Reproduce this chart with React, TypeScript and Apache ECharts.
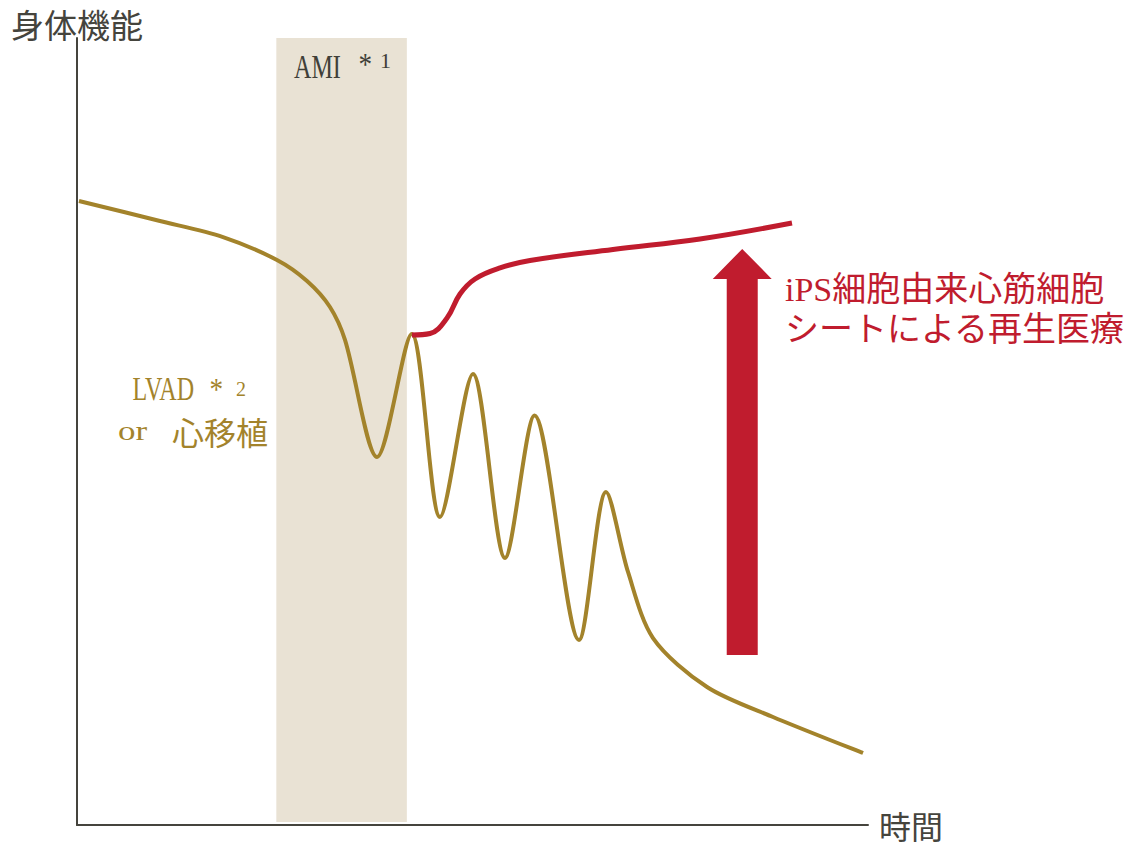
import React, { useEffect, useRef } from "react";
import * as echarts from "echarts";

// 身体機能の推移（従来経過）: [時間, 身体機能]
const declineTime = [0.25, 10.49, 18.46, 25.28, 29.08, 31.98, 33.88, 37.93, 42.31, 45.89, 50.06, 54.11, 57.84, 63.46, 66.88, 69.66, 72.82, 79.65, 87.99, 99.37];
const declineValue = [79.29, 76.75, 74.71, 71.79, 69.12, 65.82, 61.63, 46.76, 62.39, 39.14, 57.31, 33.93, 52.03, 23.51, 42.31, 32.15, 23.76, 17.53, 13.72, 9.15];

// iPS細胞由来心筋細胞シートによる再生医療後の推移
const recoveryTime = [42.35, 44.63, 46.78, 48.42, 50.32, 53.48, 57.27, 67.76, 78.76, 90.39];
const recoveryValue = [62.26, 62.45, 64.42, 67.47, 69.38, 70.78, 71.73, 73.13, 74.46, 76.49];

// AMI 期間（時間軸）
const amiPeriod = [25.2, 41.7];
// 矢印: [時間, 下端, 先端]
const improvementArrow = [84.1, 21.6, 73.2];

const GOLD = "#a3832b";
const RED = "#c01c2e";
const BAND = "#e9e2d4";
const AXIS = "#45443d";
const SERIF = "'Liberation Serif', 'Noto Sans CJK JP', serif";
const CJK = "'Noto Sans CJK JP', sans-serif";

function txt(x: number, y: number, text: string, fontSize: number, fontFamily: string, fill: string, scaleX = 1, extra: any = {}) {
  return {
    type: "text",
    x,
    y,
    z: 100,
    scaleX,
    silent: true,
    style: {
      text,
      fontSize,
      fontFamily,
      fill,
      align: "left",
      textAlign: "left",
      verticalAlign: "middle",
      textVerticalAlign: "middle",
      ...extra,
    },
  };
}

export default function App() {
  const ref = useRef<HTMLDivElement>(null);
  useEffect(() => {
    const chart = echarts.init(ref.current!, null, { renderer: "svg" });
    const decline = declineTime.map((t, i) => [t, declineValue[i]]);
    const recovery = recoveryTime.map((t, i) => [t, recoveryValue[i]]);
    const axisCommon = {
      type: "value",
      min: 0,
      max: 100,
      axisLine: { show: true, onZero: false, lineStyle: { color: AXIS, width: 2 } },
      axisTick: { show: false },
      axisLabel: { show: false },
      splitLine: { show: false },
    };
    chart.setOption({
      animation: false,
      grid: { left: 77, right: 265, top: 38, bottom: 26 },
      xAxis: {
        ...axisCommon,
        name: "時間",
        nameLocation: "end",
        nameGap: 11,
        nameTextStyle: {
          fontFamily: CJK,
          fontSize: 32,
          color: AXIS,
          align: "left",
          verticalAlign: "middle",
          padding: [25, 0, 0, 0],
        },
      },
      yAxis: {
        ...axisCommon,
        name: "身体機能",
        nameLocation: "end",
        nameGap: 14.5,
        nameTextStyle: {
          fontFamily: CJK,
          fontSize: 33,
          color: AXIS,
          align: "center",
          verticalAlign: "middle",
        },
      },
      series: [
        {
          type: "line",
          data: decline,
          smooth: 0.3,
          showSymbol: false,
          silent: true,
          lineStyle: { color: GOLD, width: 4 },
          z: 2,
          markArea: {
            silent: true,
            itemStyle: { color: BAND },
            data: [[{ xAxis: amiPeriod[0], yAxis: 0.38 }, { xAxis: amiPeriod[1], yAxis: 100 }]],
          },
        },
        {
          type: "line",
          data: recovery,
          smooth: 0.4,
          showSymbol: false,
          silent: true,
          lineStyle: { color: RED, width: 5 },
          z: 3,
        },
        {
          type: "custom",
          data: [improvementArrow],
          silent: true,
          z: 4,
          renderItem: (params: any, api: any) => {
            const x = api.value(0);
            const pb = api.coord([x, api.value(1)]);
            const pt = api.coord([x, api.value(2)]);
            const shaft = 15.5;
            const head = 29.5;
            const headH = 30;
            const cx = pb[0];
            return {
              type: "polygon",
              shape: {
                points: [
                  [cx - shaft, pb[1]],
                  [cx - shaft, pt[1] + headH],
                  [cx - head, pt[1] + headH],
                  [cx, pt[1]],
                  [cx + head, pt[1] + headH],
                  [cx + shaft, pt[1] + headH],
                  [cx + shaft, pb[1]],
                ],
              },
              style: { fill: RED },
            };
          },
        },
      ],
      graphic: [
        txt(294, 66.5, "AMI", 33, SERIF, "#403f38", 0.73),
        txt(358.5, 64, "*", 32, SERIF, "#403f38", 0.85),
        txt(380, 60.5, "1", 22, SERIF, "#403f38"),
        txt(132.5, 389, "LVAD", 33, SERIF, GOLD, 0.73),
        txt(209.5, 389, "*", 32, SERIF, GOLD, 0.85),
        txt(236, 388.5, "2", 20, SERIF, GOLD),
        txt(118, 431, "or", 28, SERIF, GOLD, 1.25),
        txt(172, 431, "心移植", 32, CJK, GOLD),
        txt(785, 309.25, "iPS細胞由来心筋細胞\nシートによる再生医療", 34, SERIF, RED, 1, { lineHeight: 39.5 }),
      ],
    });
    return () => chart.dispose();
  }, []);
  return <div ref={ref} style={{ position: "absolute", left: 0, top: 0, width: 1133, height: 851 }} />;
}
